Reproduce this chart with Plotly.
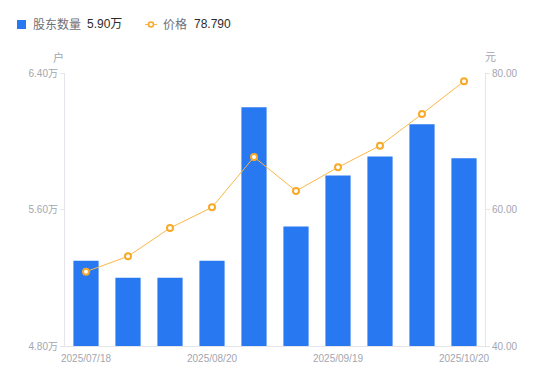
import plotly.graph_objects as go

dates = ["2025/07/18", "2025/07/31", "2025/08/10", "2025/08/20", "2025/08/31",
         "2025/09/10", "2025/09/19", "2025/09/30", "2025/10/10", "2025/10/20"]
holders = [5.30, 5.20, 5.20, 5.30, 6.20, 5.50, 5.80, 5.91, 6.10, 5.90]  # 万户
prices = [50.89, 53.14, 57.29, 60.32, 67.69, 62.71, 66.18, 69.35, 74.00, 78.79]
x_ticks = ["2025/07/18", "2025/08/20", "2025/09/19", "2025/10/20"]
left_ticks = [4.80, 5.60, 6.40]
right_ticks = [40, 60, 80]

font_family = "'Liberation Sans', Arial, 'Noto Sans CJK SC', sans-serif"
tick_color = "#a3a6b0"
axis_line = "#e3e5ea"
bar_color = "#2878f2"
line_color = "#fbb847"
marker_edge = "#f7a928"

# page body has an 8px margin; work in page pixels and compensate
OFF = 8
W, H = 550 - OFF, 381 - OFF
ML, MR, MT, MB = 65 - OFF, 65, 73 - OFF, 35
pw, ph = W - ML - MR, H - MT - MB


def px_x(x):
    return (x - OFF - ML) / pw


def px_y(y):
    return (H - MB - (y - OFF)) / ph


fig = go.Figure()
fig.add_trace(go.Bar(
    x=dates, y=holders, name="股东数量",
    marker=dict(color=bar_color, line=dict(width=0)), width=0.6, yaxis="y",
))
fig.add_trace(go.Scatter(
    x=dates, y=prices, name="价格",
    mode="lines+markers", yaxis="y2",
    line=dict(color=line_color, width=1),
    marker=dict(size=6, color="white", line=dict(color=marker_edge, width=2)),
))

annotations = [
    dict(text="户", x=px_x(58), y=px_y(57)),
    dict(text="元", x=px_x(490), y=px_y(57)),
]
for a in annotations:
    a.update(xref="paper", yref="paper", showarrow=False,
             xanchor="center", yanchor="middle",
             font=dict(size=11, color=tick_color, family=font_family))

# custom legend (text)
legend_items = [
    dict(text="股东数量", x=31, color="#6e7079"),
    dict(text="%.2f万" % holders[-1], x=85, color="#2b2b2b"),
    dict(text="价格", x=161, color="#6e7079"),
    dict(text="%.3f" % prices[-1], x=192, color="#2b2b2b"),
]
for it in legend_items:
    annotations.append(dict(
        text=it["text"], x=px_x(it["x"]), y=px_y(24.5), xref="paper", yref="paper",
        xanchor="left", yanchor="middle", showarrow=False,
        font=dict(size=12, color=it["color"], family=font_family),
    ))

shapes = [
    dict(type="rect", xref="paper", yref="paper",
         x0=px_x(17), x1=px_x(26), y0=px_y(29), y1=px_y(20),
         fillcolor=bar_color, line=dict(width=0)),
    dict(type="line", xref="paper", yref="paper",
         x0=px_x(145), x1=px_x(157), y0=px_y(24.5), y1=px_y(24.5),
         line=dict(color=line_color, width=1)),
    dict(type="circle", xref="paper", yref="paper",
         x0=px_x(148.5), x1=px_x(153.5), y0=px_y(27), y1=px_y(22),
         fillcolor="white", line=dict(color=marker_edge, width=1.6)),
]

fig.update_layout(
    width=W, height=H,
    margin=dict(l=ML, r=MR, t=MT, b=MB, autoexpand=False),
    paper_bgcolor="white", plot_bgcolor="white",
    font=dict(family=font_family, size=10, color=tick_color),
    showlegend=False,
    bargap=0.4,
    xaxis=dict(
        type="category", categoryorder="array", categoryarray=dates,
        range=[-0.5, len(dates) - 0.5], autorange=False,
        tickmode="array", tickvals=x_ticks, ticktext=x_ticks,
        showline=True, linecolor=axis_line, linewidth=1, ticks="", showgrid=False,
        tickfont=dict(size=10, color=tick_color), zeroline=False, automargin=False,
        ticklabelstandoff=3,
    ),
    yaxis=dict(
        range=[4.80, 6.40], tickmode="array", tickvals=left_ticks,
        ticktext=["%.2f万" % v for v in left_ticks],
        showline=True, linecolor=axis_line, linewidth=1,
        ticks="outside", ticklen=4, tickcolor=axis_line,
        showgrid=False, zeroline=False, automargin=False,
        tickfont=dict(size=10, color=tick_color),
    ),
    yaxis2=dict(
        range=[40, 80], overlaying="y", side="right", tickmode="array",
        tickvals=right_ticks, ticktext=["%.2f" % v for v in right_ticks],
        showline=True, linecolor=axis_line, linewidth=1,
        ticks="outside", ticklen=4, tickcolor=axis_line,
        showgrid=False, zeroline=False, automargin=False,
        tickfont=dict(size=10, color=tick_color),
    ),
    annotations=annotations,
    shapes=shapes,
)

fig.write_html("out.html")
